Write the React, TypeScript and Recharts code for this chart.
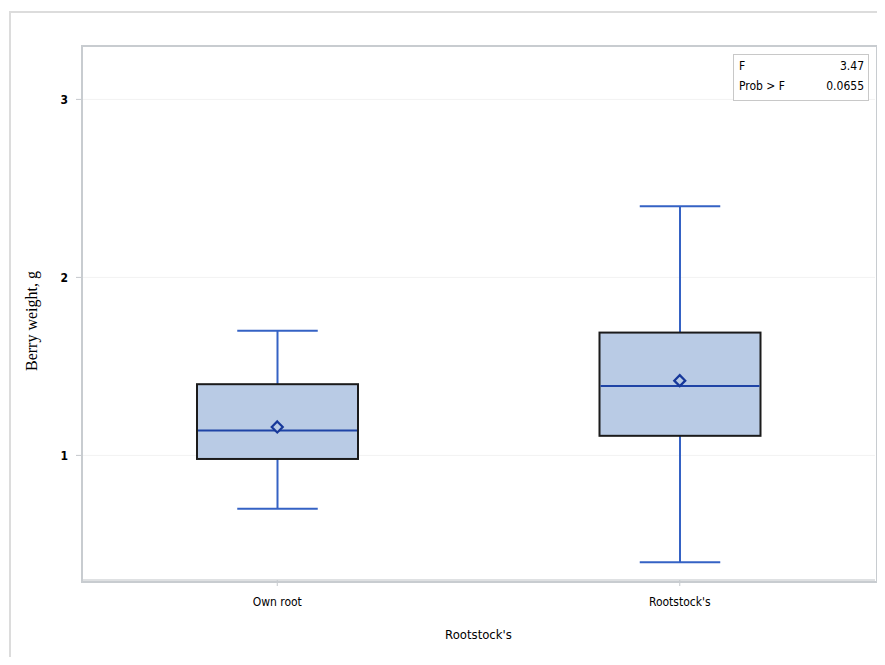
import { ComposedChart, Bar, Scatter, XAxis, YAxis, CartesianGrid } from "recharts";

const categories = ["Own root", "Rootstock's"];
const mins = [0.7, 0.4];
const q1s = [0.98, 1.11];
const medians = [1.14, 1.39];
const q3s = [1.4, 1.69];
const maxs = [1.7, 2.4];
const means = [1.16, 1.42];
const yTicks = [1, 2, 3];

const data = categories.map((name, i) => ({
  name,
  range: [mins[i], maxs[i]],
  min: mins[i],
  q1: q1s[i],
  median: medians[i],
  q3: q3s[i],
  max: maxs[i],
  mean: means[i],
}));

const FILL = "#b9cbe5";
const WHISKER = "#3562c4";
const MEDIAN = "#1f44a6";
const FONT = "'DejaVu Sans Condensed', 'Liberation Sans Narrow', Arial, sans-serif";

// box drawn inside the min..max range bar; quartiles placed by interpolating the bar's own scale
function BoxShape(props: any) {
  const { x, y, width, height, payload } = props;
  const span = payload.max - payload.min;
  const yOf = (v: number) => y + ((payload.max - v) / span) * height;
  const cx = x + width / 2;
  const cap = width / 4;
  const yQ1 = yOf(payload.q1);
  const yQ3 = yOf(payload.q3);
  return (
    <g>
      <line x1={cx} x2={cx} y1={y} y2={yQ3} stroke={WHISKER} strokeWidth={2} />
      <line x1={cx} x2={cx} y1={yQ1} y2={y + height} stroke={WHISKER} strokeWidth={2} />
      <line x1={cx - cap} x2={cx + cap} y1={y} y2={y} stroke={WHISKER} strokeWidth={2} />
      <line x1={cx - cap} x2={cx + cap} y1={y + height} y2={y + height} stroke={WHISKER} strokeWidth={2} />
      <rect x={x} y={yQ3} width={width} height={yQ1 - yQ3} fill={FILL} stroke="#1b1b1b" strokeWidth={2} />
      <line x1={x + 1} x2={x + width - 1} y1={yOf(payload.median)} y2={yOf(payload.median)} stroke={MEDIAN} strokeWidth={2.2} />
    </g>
  );
}

function Diamond(props: any) {
  const { cx, cy } = props;
  const r = 5.5;
  return (
    <path
      d={`M${cx},${cy - r} L${cx + r},${cy} L${cx},${cy + r} L${cx - r},${cy} Z`}
      fill={FILL}
      stroke="#17389a"
      strokeWidth={2.2}
    />
  );
}

export default function App() {
  return (
    <div style={{ margin: -8, width: 885, height: 665, position: "relative", overflow: "hidden", background: "#fff" }}>
      <div
        style={{
          position: "absolute", left: 9, top: 11, width: 900, height: 700,
          border: "2px solid #dcdcdc",
        }}
      />
      <ComposedChart
        width={885}
        height={665}
        data={data}
        margin={{ top: 46, right: 10, left: 32, bottom: 25 }}
      >
        <CartesianGrid vertical={false} stroke="#f2f2f2" />
        <XAxis
          dataKey="name"
          padding={{ left: -6, right: -6 }}
          tick={{ fill: "#000", fontSize: 12, fontFamily: FONT }}
          tickSize={6}
          tickMargin={11}
          stroke="#c4c8cc"
          height={60}
          label={{
            content: ({ viewBox }: any) => (
              <text
                x={viewBox.x + viewBox.width / 2}
                y={639}
                textAnchor="middle"
                fontSize={13}
                fontFamily={FONT}
                fill="#000"
              >
                Rootstock's
              </text>
            ),
          }}
        />
        <YAxis
          domain={[0.3, 3.3]}
          ticks={yTicks}
          allowDataOverflow
          width={50}
          tick={{ fill: "#000", fontSize: 12, fontFamily: FONT, fontWeight: "bold" }}
          tickSize={6}
          tickMargin={8}
          stroke="#c4c8cc"
          label={{
            content: ({ viewBox }: any) => {
              const cy = viewBox.y + viewBox.height / 2 + 8;
              return (
                <text
                  x={37}
                  y={cy}
                  transform={`rotate(-90 37 ${cy})`}
                  textAnchor="middle"
                  fontSize={16}
                  fontFamily="'Liberation Serif', 'Times New Roman', serif"
                  fill="#000"
                >
                  Berry weight, g
                </text>
              );
            },
          }}
        />
        <Bar dataKey="range" barSize={161} shape={<BoxShape />} isAnimationActive={false} />
        <Scatter dataKey="mean" shape={<Diamond />} isAnimationActive={false} />
      </ComposedChart>
      <div
        style={{
          position: "absolute", left: 81, top: 45, width: 793, height: 534,
          border: "2px solid #c8ccd0", pointerEvents: "none",
        }}
      />
      <div
        style={{
          position: "absolute", left: 733, top: 54, width: 136, height: 47,
          boxSizing: "border-box",
          border: "1px solid #c8c8c8", background: "#fff",
          fontFamily: FONT, fontSize: 12, color: "#000", lineHeight: "20px",
          padding: "1px 4px 0 5px",
        }}
      >
        <div style={{ display: "flex", justifyContent: "space-between" }}>
          <span>F</span>
          <span>3.47</span>
        </div>
        <div style={{ display: "flex", justifyContent: "space-between" }}>
          <span>Prob &gt; F</span>
          <span>0.0655</span>
        </div>
      </div>
    </div>
  );
}
